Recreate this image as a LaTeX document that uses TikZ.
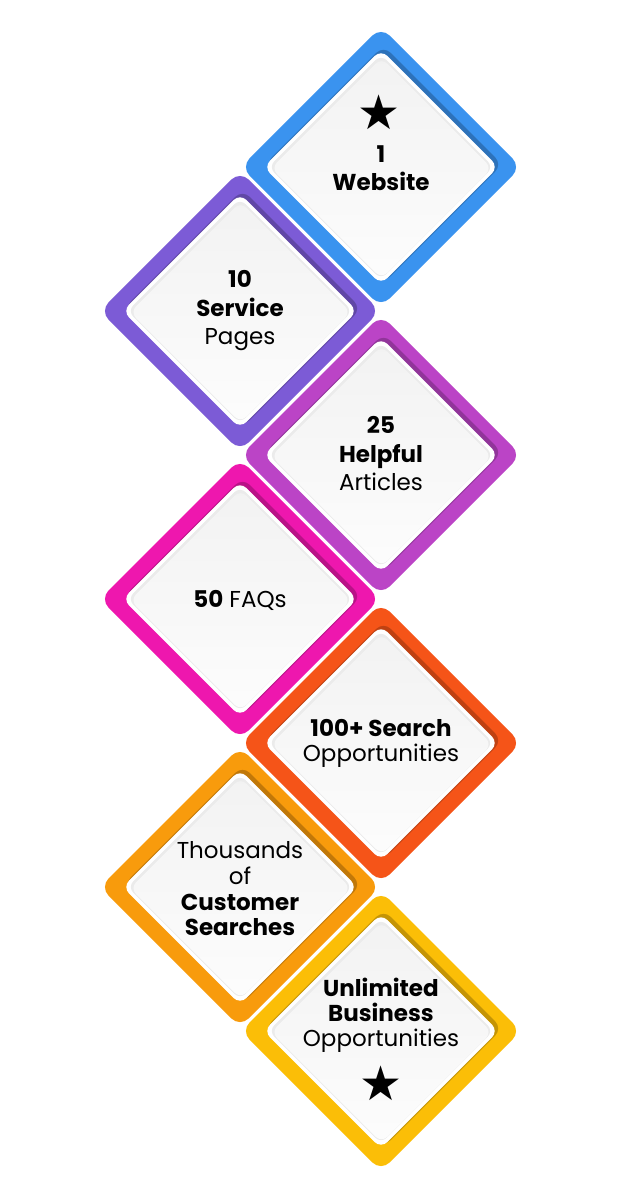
\documentclass[tikz,border=0pt]{standalone}
\usepackage{fontspec}
\setmainfont{Poppins}
\newfontfamily\symfont{DejaVu Sans}
\definecolor{cBlue}{HTML}{3A93EF}
\definecolor{cPurple}{HTML}{7C5BD6}
\definecolor{cMagenta}{HTML}{BB44C6}
\definecolor{cPink}{HTML}{EE17AE}
\definecolor{cRed}{HTML}{F55418}
\definecolor{cOrange}{HTML}{F89B0C}
\definecolor{cYellow}{HTML}{FBBE07}
\tikzset{
  sq/.style={rectangle, rotate=45, inner sep=0pt, outer sep=0pt},
  outerbox/.style={sq, minimum size=198pt, rounded corners=12pt},
  shadebox/.style={sq, minimum size=168pt, rounded corners=10pt},
  rimbox/.style={sq, minimum size=166pt, rounded corners=9pt, fill=white},
  bandbox/.style={sq, minimum size=159pt, rounded corners=8pt, fill=black!8},
  innerbox/.style={sq, minimum size=156pt, rounded corners=8pt, left color=black!5, right color=black!1, shading angle=0},
  lbl/.style={align=center, text=black, font=\fontsize{23}{27}\selectfont, inner sep=0pt},
  starlbl/.style={text=black, font=\symfont\fontsize{48}{48}\selectfont, inner sep=0pt},
}
\newcommand\dmd[3]{%
  \node[outerbox, fill=#3] (#1) at (#2) {};
  \node[shadebox, fill=#3!60!black, fill opacity=0.55] (#1s) at ([shift={(2.5,-2.5)}]#2) {};
  \node[rimbox] (#1r) at (#2) {};
  \node[bandbox] (#1b) at (#2) {};
  \node[innerbox] (#1i) at ([shift={(0.5,1.2)}]#2) {};
}
\begin{document}
\begin{tikzpicture}[x=1pt,y=-1pt]
\fill[white] (0,0) rectangle (620,1200);
\useasboundingbox (0,0) rectangle (620,1200);
\coordinate (p1) at (381,167);
\coordinate (p2) at (240,311);
\coordinate (p3) at (381,455);
\coordinate (p4) at (240,599);
\coordinate (p5) at (381,743);
\coordinate (p6) at (240,887);
\coordinate (p7) at (381,1031);
\dmd{d1}{p1}{cBlue}
\dmd{d2}{p2}{cPurple}
\dmd{d3}{p3}{cMagenta}
\dmd{d4}{p4}{cPink}
\dmd{d5}{p5}{cRed}
\dmd{d6}{p6}{cOrange}
\dmd{d7}{p7}{cYellow}
\node[starlbl] (s1) at (379,112) {★};
\node[lbl, font=\fontsize{23}{28}\selectfont] (t1) at (381,168) {\bfseries 1\\\bfseries Website};
\node[lbl, font=\fontsize{23}{28.5}\selectfont] (t2) at (240,311) {\bfseries 10\\\bfseries Service\\Pages};
\node[lbl, font=\fontsize{23}{28.5}\selectfont] (t3) at (381,454) {\bfseries 25\\\bfseries Helpful\\Articles};
\node[lbl] (t4) at (240,600) {\textbf{50} FAQs};
\node[lbl, font=\fontsize{23}{25}\selectfont] (t5) at (381,743) {\bfseries 100+ Search\\Opportunities};
\node[lbl, font=\fontsize{23}{25.7}\selectfont] (t6) at (240,889) {Thousands\\of\\\bfseries Customer\\\bfseries Searches};
\node[lbl, font=\fontsize{23}{25}\selectfont] (t7) at (381,1015) {\bfseries Unlimited\\\bfseries Business\\Opportunities};
\node[starlbl] (s7) at (381,1083) {★};
\end{tikzpicture}
\end{document}
